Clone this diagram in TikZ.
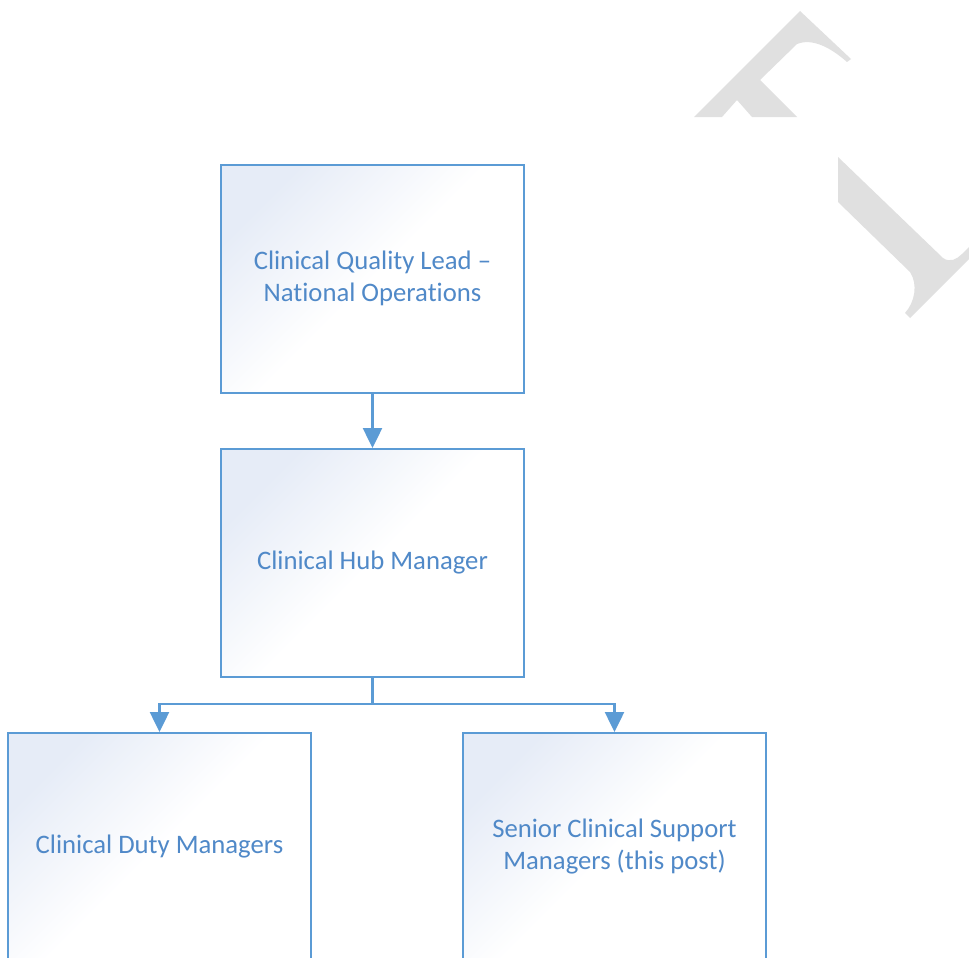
\documentclass[tikz,border=0pt]{standalone}
\usepackage{fontspec}
\setmainfont[Ligatures={NoCommon,NoContextual}]{Carlito}
\usetikzlibrary{arrows.meta}
\definecolor{boxline}{HTML}{5B9BD5}
\definecolor{boxtext}{HTML}{5089C8}
\definecolor{boxfill}{HTML}{E6ECF7}
\definecolor{wmark}{HTML}{E0E0E0}
\tikzset{
  orgbox/.style={draw=boxline, line width=2pt, rectangle, inner sep=0pt,
    minimum width=303pt, minimum height=228pt, align=center,
    text=boxtext, font=\fontsize{26.7}{32}\selectfont,
    top color=boxfill, bottom color=white, middle color=white, shading angle=45},
  conn/.style={draw=boxline, line width=2.5pt},
  connarrow/.style={conn, -{Triangle[width=19pt,length=20pt]}}
}
\begin{document}
\begin{tikzpicture}[x=1pt,y=-1pt]
\useasboundingbox (0,0) rectangle (969,958);
\clip (0,0) rectangle (969,958);
\fill[white] (0,0) rectangle (969,958);
% watermark fragments
\fill[wmark] (694,117) -- (800,11) -- (851,59) -- (847,62)
  .. controls (830,47) and (812,38) .. (797,44) -- (760,80) -- (797,117)
  -- (752,117) -- (737,100) -- (722,117) -- cycle;
\fill[wmark] (838,157) -- (943,258) .. controls (950,263) and (957,259) .. (962,254)
  -- (980,236) -- (980,248) -- (910,318) -- (905,313)
  .. controls (915,302) and (918,284) .. (910,272) -- (838,202) -- cycle;
% boxes
\node[orgbox] (A) at (372.5,278.5) {Clinical Quality Lead –\\National Operations};
\node[orgbox] (B) at (372.5,563) {Clinical Hub Manager};
\node[orgbox] (C) at (159.5,847) {Clinical Duty Managers};
\node[orgbox] (D) at (614.5,847) {Senior Clinical Support\\Managers (this post)};
% connectors
\coordinate (J) at (372.5,704);
\draw[connarrow] (A.south) -- (B.north);
\draw[conn] (B.south) -- (J);
\draw[connarrow] (J) -| (C.north);
\draw[connarrow] (J) -| (D.north);
\end{tikzpicture}
\end{document}
